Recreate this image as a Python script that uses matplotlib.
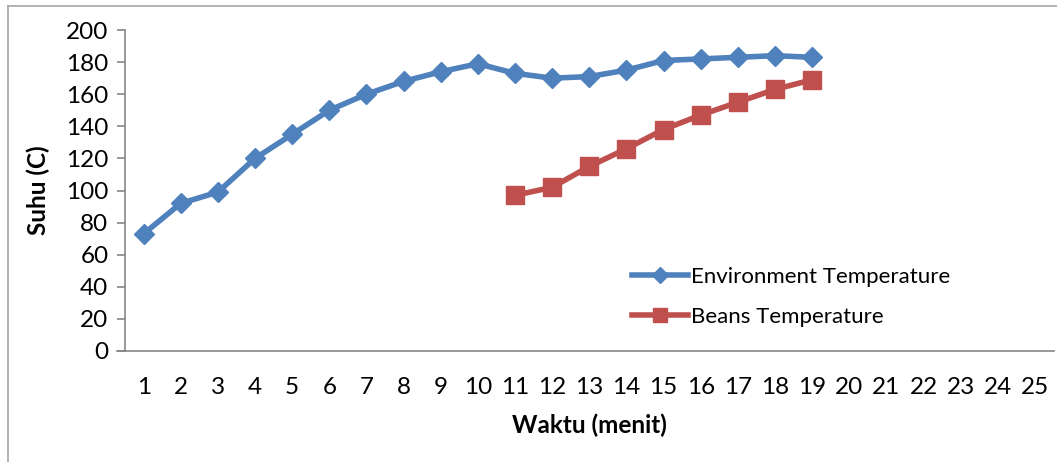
import matplotlib
matplotlib.use("Agg")
import matplotlib.pyplot as plt
from matplotlib.lines import Line2D

plt.rcParams["font.family"] = ["Lato", "DejaVu Sans"]

# minutes shown on the category axis
minutes = list(range(1, 26))

env_minutes = list(range(1, 20))
env_temp = [73, 92, 99, 120, 135, 150, 160, 168, 174, 179,
            173, 170, 171, 175, 181, 182, 183, 184, 183]

bean_minutes = list(range(11, 20))
bean_temp = [97, 102, 115, 126, 138, 147, 155, 163, 169]

BLUE = "#4F81BD"
RED = "#C0504D"
GRAY = "#868686"
FS = 17.5

fig = plt.figure(figsize=(10.57, 4.62), dpi=100)
fig.patch.set_facecolor("white")
ax = fig.add_axes([0.1183, 0.2403, 0.8784, 0.6947])

ax.plot(env_minutes, env_temp, color=BLUE, lw=4, marker="D", ms=10.5,
        label="Environment Temperature")
ax.plot(bean_minutes, bean_temp, color=RED, lw=4, marker="s", ms=13.5,
        label="Beans Temperature")

ax.set_xlim(0.5, 25.5)
ax.set_ylim(0, 200)
ax.set_yticks(range(0, 201, 20))
ax.set_xticks(minutes)
ax.set_xticklabels([str(m) for m in minutes])

for side in ("top", "right"):
    ax.spines[side].set_visible(False)
for side in ("left", "bottom"):
    ax.spines[side].set_color(GRAY)
    ax.spines[side].set_linewidth(1.2)

ax.tick_params(axis="y", direction="out", length=6, width=1.2, color=GRAY,
               labelsize=FS, pad=6)
ax.tick_params(axis="x", length=0, labelsize=FS, pad=19)

# x-axis line reaches left to the end of the y ticks
ax.plot([0.28, 0.5], [0, 0], color=GRAY, lw=1.2, clip_on=False)

fig.text(0.036, 0.589, "Suhu (C)", rotation=90, ha="center", va="center",
         fontsize=FS, fontweight="bold")
fig.text(0.558, 0.08, "Waktu (menit)", ha="center", va="center",
         fontsize=FS, fontweight="bold")

leg = ax.legend(loc="upper left", bbox_to_anchor=(0.546, 0.262), frameon=False,
                fontsize=16, handlelength=2.5, handletextpad=0.15,
                labelspacing=0.9, borderaxespad=0, borderpad=0)
for h in leg.legend_handles:
    h.set_markersize(h.get_markersize() * 0.75)

# outer chart border (top and left visible)
fig.add_artist(Line2D([0.0076, 1.0], [0.987, 0.987], transform=fig.transFigure,
                      color="#A6A6A6", lw=1.2))
fig.add_artist(Line2D([0.0076, 0.0076], [0.0, 0.987], transform=fig.transFigure,
                      color="#A6A6A6", lw=1.2))

fig.savefig("out.png", dpi=100, facecolor="white")
